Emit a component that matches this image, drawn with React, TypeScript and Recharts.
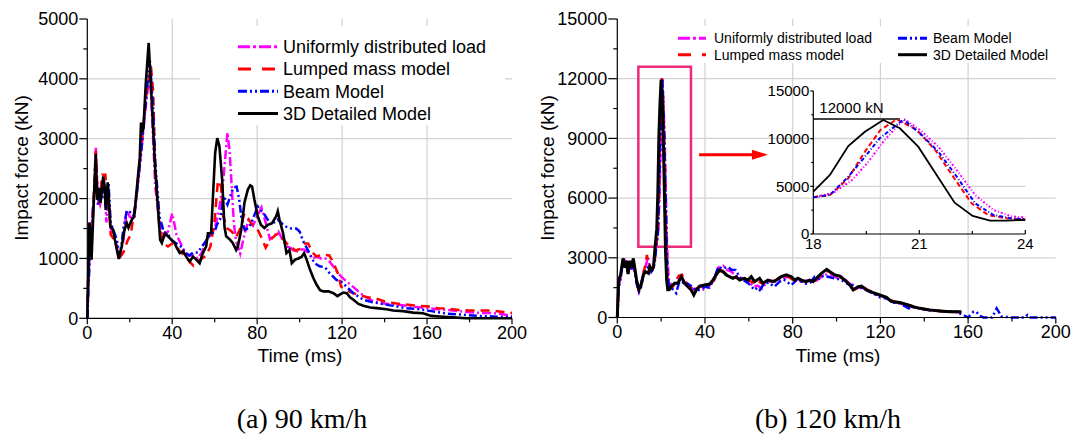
import React from "react";
import {
  LineChart,
  Line,
  XAxis,
  YAxis,
  CartesianGrid,
  ReferenceArea,
  ReferenceLine,
  ReferenceDot,
} from "recharts";

type Pt = [number, number]; // [time (ms), force (kN)]

// (a) 90 km/h
const aUniform: Pt[] = [
  [0, 0], [1, 1000], [2, 1550], [3, 2000], [4, 2850], [5, 2000], [6, 1900], [7, 2100], [8, 2300], [9, 1600],
  [10, 2100], [11, 1500], [13, 1350], [15, 1000], [17, 1300], [18.5, 1800], [20, 1700], [22, 1650], [24, 2300],
  [26, 3000], [28, 3700], [29.5, 4100], [31, 3000], [32, 2200], [34, 1600], [36, 1350], [38, 1450], [40, 1750],
  [42, 1400], [44, 1250], [46, 1100], [48, 1050], [50, 1050], [52, 1000], [54, 1100], [56, 1300], [58, 1400],
  [60, 1500], [62, 1800], [64, 2300], [66, 3100], [67, 2800], [68, 2200], [69, 1600], [70, 1300], [72, 1080],
  [74, 1400], [76, 1650], [78, 1550], [80, 1700], [82, 1850], [84, 1600], [86, 1320], [88, 1380], [90, 1450],
  [92, 1310], [94, 1200], [96, 1170], [98, 1100], [100, 1150], [102, 1150], [104, 1100], [106, 1000], [108, 1030],
  [110, 1000], [112, 1000], [114, 950], [116, 860], [118, 760], [120, 680], [122, 620], [124, 560], [126, 500],
  [128, 440], [130, 380], [134, 300], [138, 250], [142, 240], [146, 230], [150, 210], [155, 190], [160, 170],
  [165, 150], [170, 140], [175, 120], [180, 100], [185, 90], [190, 90], [195, 70], [200, 40],
];
const aLumped: Pt[] = [
  [0, 0], [1, 1600], [2, 1200], [3, 2000], [4, 2800], [5, 1900], [6, 2000], [7, 2400], [8.5, 2400], [9, 2100],
  [10, 2000], [11, 1400], [13, 1300], [15, 1000], [17, 1100], [19, 1300], [20.5, 1400], [23, 2000], [26, 3100],
  [28, 3800], [30, 4200], [31, 3800], [32, 2500], [34, 1500], [36, 1250], [38, 1200], [40, 1250], [42, 1200],
  [44, 1100], [46, 1050], [48, 950], [50, 880], [52, 950], [54, 1000], [56, 1050], [58, 1200], [60, 1650],
  [61.5, 2300], [63, 2200], [64, 1700], [66, 1500], [68, 1450], [70, 1350], [72, 1500], [74, 1750], [76, 1650],
  [78, 1550], [80, 1500], [82, 1350], [84, 1180], [86, 1300], [88, 1370], [90, 1420], [92, 1330], [94, 1250],
  [96, 1200], [98, 1130], [100, 1160], [102, 1250], [104, 1250], [106, 1100], [108, 1030], [110, 1060],
  [112, 1060], [114, 1050], [116, 920], [118, 750], [119.5, 530], [122, 470], [125, 420], [128, 390], [132, 350],
  [136, 330], [140, 280], [145, 250], [150, 230], [155, 210], [160, 200], [165, 170], [170, 160], [175, 140],
  [180, 130], [185, 130], [190, 130], [195, 110], [200, 90],
];
const aBeam: Pt[] = [
  [0, 0], [1, 900], [2, 1400], [3, 2000], [4, 2500], [5, 1900], [6, 2100], [7, 2000], [8, 2200], [9, 1800],
  [10, 2250], [11, 1600], [12, 1500], [14, 1300], [15, 1050], [16, 1200], [17, 1500], [18.6, 1800], [21, 1760],
  [22, 1700], [24, 2300], [26, 3000], [28, 3800], [29.5, 4300], [31, 3500], [32, 2600], [34, 1700], [36, 1450],
  [38, 1400], [40, 1300], [42, 1250], [44, 1200], [46, 1100], [48, 1050], [50, 1100], [52, 1100], [54, 1200],
  [56, 1300], [58, 1400], [60, 1450], [61, 1560], [62.5, 1650], [64.3, 2040], [66, 1900], [68.7, 2180],
  [70.3, 2200], [71.5, 2000], [72.5, 1700], [74.1, 1480], [75.7, 1500], [77.2, 1590], [80.3, 1870], [83.5, 1730],
  [86.6, 1560], [89.7, 1650], [92.9, 1540], [96, 1500], [98.4, 1500], [100, 1450], [101.5, 1300], [103, 1200],
  [105.4, 1030], [107, 920], [109.4, 870], [112, 850], [114, 760], [117.3, 640], [119.7, 610], [122, 530],
  [125.3, 420], [130, 310], [134, 270], [137.7, 250], [142, 220], [145.6, 200], [150, 170], [156.5, 150],
  [162, 120], [169, 80], [178.5, 55], [185, 40], [191, 30], [200, 20],
];
const aDetailed: Pt[] = [
  [0, 0], [1, 1600], [2, 980], [3, 1900], [4, 2750], [4.6, 1980], [5.5, 2180], [6.2, 1930], [7.5, 2370],
  [8.1, 2200], [8.7, 1810], [9.6, 2270], [10.3, 1870], [10.9, 1530], [12.2, 1480], [13, 1310], [14.8, 990],
  [16.2, 1200], [17.5, 1480], [18.6, 1590], [19.4, 1510], [21, 1650], [22.1, 1700], [23.4, 2200], [24.7, 2680],
  [25.3, 3270], [25.9, 3100], [26.5, 3210], [27.5, 3900], [28.9, 4600], [30.3, 3660], [31.9, 2540], [33, 1980],
  [34.3, 1310], [35.1, 1260], [36.5, 1420], [38, 1370], [39.6, 1310], [41.1, 1260], [42.2, 1170], [43.5, 1090],
  [45.1, 1120], [46.6, 1030], [48.2, 950], [49.8, 1030], [51.3, 980], [52.9, 920], [54.4, 1090], [56, 1200],
  [56.8, 1420], [58.3, 1420], [59.1, 1980], [60.2, 2760], [61.2, 3010], [62.2, 2880], [63.5, 2320], [64.6, 1530],
  [65.4, 1370], [67.3, 1310], [68.5, 1260], [70.1, 1140], [70.9, 1200], [72.5, 1480], [74, 1930], [75.6, 2150],
  [76.7, 2220], [77.6, 2200], [78.7, 1980], [80.3, 1700], [81.8, 1560], [83.4, 1510], [85, 1560], [87, 1590],
  [88.9, 1700], [89.7, 1790], [90.5, 1650], [92.2, 1420], [93.8, 1090], [95.2, 1140], [96.3, 920], [97.9, 980],
  [99.4, 1000], [101, 1030], [102.1, 1090], [103.3, 980], [104.9, 810], [106.5, 670], [108, 560], [109.6, 470],
  [111.2, 450], [113.5, 450], [115.9, 420], [117.8, 370], [119, 400], [120.6, 430], [122.2, 420], [123.7, 350],
  [125.3, 310], [127.7, 240], [130, 210], [133.2, 180], [136.2, 170], [140.9, 150], [144, 130], [148.7, 120],
  [153.4, 95], [158.1, 85], [162, 40], [165.9, 30], [172.2, 15], [178.4, 0], [200, 0],
];

// inset of (b): 18–24 ms
const insetUniform: Pt[] = [
  [18, 3850], [18.57, 4330], [19.1, 5660], [19.56, 7580], [19.98, 9680], [20.36, 11260], [20.6, 12000],
  [21.02, 10910], [21.54, 9160], [22.06, 6710], [22.58, 4090], [23.1, 2520], [23.6, 1850], [23.85, 1780], [24, 1760],
];
const insetLumped: Pt[] = [
  [18, 3850], [18.47, 4090], [18.99, 5840], [19.46, 8630], [19.9, 10910], [20.36, 12030], [20.93, 10910],
  [21.45, 8810], [21.96, 6010], [22.48, 3220], [22.95, 1990], [23.46, 1640], [23.85, 1570], [24, 1560],
];
const insetBeam: Pt[] = [
  [18, 3850], [18.47, 4090], [18.99, 6010], [19.46, 8100], [19.88, 10040], [20.55, 12000], [21.02, 10560],
  [21.54, 8630], [22.06, 6010], [22.58, 3220], [23.1, 1990], [23.6, 1640], [23.85, 1570], [24, 1560],
];
const insetDetailed: Pt[] = [
  [18, 4440], [18.47, 6190], [18.99, 9230], [19.46, 10730], [19.98, 11960], [20.45, 11090], [20.97, 9160],
  [21.49, 6190], [22.0, 3290], [22.51, 1890], [23.0, 1400], [23.47, 1400], [23.85, 1470], [24, 1450],
];

// (b) 120 km/h, before and after the inset window
const bUniformRise: Pt[] = [
  [0, 0], [0.6, 1500], [1.5, 2000], [2.6, 2700], [3.4, 3000], [4.2, 2600], [5, 2300], [5.7, 2700], [6.5, 2400],
  [7.3, 2800], [8.1, 2300], [8.8, 1800], [9.9, 1300], [10.8, 1600], [12, 2300], [13, 2600], [14, 3050],
  [15, 2400], [16, 2300], [17, 2900],
];
const bUniformFall: Pt[] = [
  [25, 1600], [26.5, 1700], [28, 2100], [29.5, 2000], [31, 1700], [33, 1550], [35, 1400], [37, 1500],
  [39.8, 1380], [42, 1600], [44, 1900], [46, 2500], [48.3, 2600], [50, 2400], [52, 2300], [54, 2100], [56, 2000],
  [58, 1950], [60, 1800], [62.2, 1550], [64, 1600], [66, 1450], [68, 1750], [70, 1850], [72, 1800], [74, 1900],
  [76, 2000], [78, 2050], [80, 1950], [82, 1900], [84, 1800], [86, 1850], [88, 1900], [90, 1800], [92, 1950],
  [94, 2100], [96, 2200], [98, 2150], [100, 2000], [102, 2050], [104, 1900], [106, 1700], [108, 1450],
  [110, 1500], [112, 1500], [114, 1350], [117, 1200], [120, 1100], [123, 950], [126, 780], [129, 700],
  [133, 560], [136, 500], [140, 400], [145, 340], [150, 300], [156, 260],
];
const bLumpedRise: Pt[] = [
  [0, 0], [0.6, 1700], [1.5, 2100], [2.6, 2900], [3.4, 2500], [4.2, 2800], [5, 2200], [5.7, 2800], [6.5, 2450],
  [7.3, 2900], [8.1, 2300], [8.8, 1800], [9.9, 1250], [10.8, 1600], [12, 2300], [13, 2700], [13.5, 3140],
  [14.5, 2600], [15.5, 2400], [16.5, 2500], [17.2, 3000],
];
const bLumpedFall: Pt[] = [
  [25, 1500], [26.5, 1750], [28, 2100], [29.5, 2150], [31, 1800], [33, 1600], [35, 1350], [37, 1500],
  [39.8, 1600], [42, 1650], [44, 1850], [46, 2300], [48, 2350], [50, 2150], [52, 2000], [54, 2000], [56, 1900],
  [58, 1950], [60, 1850], [62, 1750], [64, 1850], [66, 1700], [68, 1800], [70, 1800], [72, 1850], [74, 2000],
  [76, 2100], [78, 2050], [80, 1900], [82, 1950], [84, 1850], [86, 1800], [88, 1850], [90, 1850], [92, 2050],
  [94, 2250], [96, 2350], [98, 2200], [100, 2100], [102, 2000], [104, 1850], [106, 1600], [108, 1400],
  [110, 1500], [112, 1550], [114, 1400], [117, 1250], [120, 1100], [123, 1000], [126, 800], [129, 740],
  [133, 620], [136, 530], [140, 420], [145, 350], [150, 300], [156, 280],
];
const bBeamRise: Pt[] = [
  [0, 0], [0.6, 1400], [1.5, 2000], [2.6, 2800], [3.4, 2700], [4.2, 2600], [5, 2200], [5.7, 2500], [6.5, 2400],
  [7.3, 2800], [8.1, 2200], [8.8, 1700], [9.9, 1300], [10.8, 1500], [12, 2200], [13, 2400], [14.7, 2600],
  [15.5, 2300], [16.5, 2450], [17.2, 2900],
];
const bBeamFall: Pt[] = [
  [25, 1450], [26.9, 1220], [28, 1700], [29.2, 1970], [30.5, 1600], [32, 1700], [34.3, 1550], [36, 1350],
  [38, 1400], [40, 1550], [42, 1500], [44, 1900], [46.1, 2550], [48, 2450], [50.5, 2550], [52, 2400],
  [54, 2390], [56, 2000], [58, 1850], [60, 1700], [62.6, 1380], [64, 1500], [65, 1380], [67, 1700], [69, 1750],
  [71.7, 1550], [74, 1800], [76, 1900], [79.4, 1630], [82, 1900], [84, 1800], [86, 1700], [88, 1750], [90, 2050],
  [92, 1950], [94, 2100], [96, 2050], [98, 2000], [100, 1950], [102, 1900], [104, 1750], [106, 1650],
  [108, 1630], [110, 1450], [112, 1500], [114, 1350], [117, 1200], [120, 1000], [123, 950], [126, 750],
  [129, 700], [132.9, 460], [135, 520], [138, 450], [142, 380], [146, 330], [150, 300], [154, 300],
  [157.8, 130], [160, 0], [162.4, 290], [163.9, 280], [165, 100], [167, 0], [171, 0], [173, 460], [174, 290],
  [175, 50], [180, 0], [186, 0], [187, 120], [188, 0], [200, 0],
];
const bDetailedRise: Pt[] = [
  [0, 0], [0.6, 1880], [1.5, 2140], [2.6, 2970], [3.4, 2510], [4.2, 2850], [4.9, 2180], [5.7, 2850],
  [6.5, 2510], [7.3, 2970], [8.1, 2400], [8.8, 1880], [9.9, 1410], [10.8, 1630], [11.9, 2140], [12.9, 2300],
  [14.2, 2220], [14.9, 2550], [15.7, 2400], [16.5, 2550], [17.2, 3500],
];
const bDetailedFall: Pt[] = [
  [24.6, 1550], [26.1, 1720], [27.6, 1720], [29.2, 2050], [30.7, 1720], [32.2, 1550], [33.7, 1380],
  [34.9, 1130], [36, 1380], [37.5, 1580], [39.8, 1630], [42.1, 1680], [43.6, 1880], [45.1, 2140], [46.6, 2390],
  [48.2, 2300], [49.7, 2140], [51.2, 2050], [52.7, 1970], [54.2, 2050], [55.8, 1880], [58, 1970], [59.6, 1880],
  [61.1, 2050], [62.6, 1800], [64.9, 1970], [66.4, 1720], [68.7, 1880], [71, 1800], [72.5, 1880], [74.8, 2050],
  [77.1, 2140], [79.4, 2050], [80.9, 1880], [82.4, 1970], [84, 1880], [86.2, 1800], [87.7, 1880], [89.3, 1800],
  [90.8, 1970], [93.1, 2220], [95.5, 2420], [97, 2300], [99.2, 2140], [101.5, 2080], [103.8, 1880],
  [106.1, 1630], [107.6, 1380], [109.9, 1550], [111.4, 1580], [113.7, 1380], [116.7, 1250], [119.7, 1130],
  [122.8, 1010], [125.1, 800], [128.9, 750], [132.7, 630], [135, 540], [138, 460], [142.6, 380], [147.2, 330],
  [151.7, 290], [156.3, 290], [157, 280],
];
const bUniform = [...bUniformRise, ...insetUniform, ...bUniformFall];
const bLumped = [...bLumpedRise, ...insetLumped, ...bLumpedFall];
const bBeam = [...bBeamRise, ...insetBeam, ...bBeamFall];
const bDetailed = [...bDetailedRise, ...insetDetailed, ...bDetailedFall];

// ticks
const timeTicks = [0, 20, 40, 60, 80, 100, 120, 140, 160, 180, 200];
const timeMajor = [0, 40, 80, 120, 160, 200];
const timeGrid = [40, 80, 120, 160];
const forceTicksA = [0, 500, 1000, 1500, 2000, 2500, 3000, 3500, 4000, 4500, 5000];
const forceMajorA = [0, 1000, 2000, 3000, 4000, 5000];
const forceGridA = [1000, 2000, 3000, 4000];
const forceTicksB = [0, 1500, 3000, 4500, 6000, 7500, 9000, 10500, 12000, 13500, 15000];
const forceMajorB = [0, 3000, 6000, 9000, 12000, 15000];
const forceGridB = [3000, 6000, 9000, 12000];
const insetTimeTicks = [18, 19.5, 21, 22.5, 24];
const insetTimeMajor = [18, 21, 24];
const insetForceTicks = [0, 2500, 5000, 7500, 10000, 12500, 15000];
const insetForceMajor = [0, 5000, 10000, 15000];

// annotations in (b)
const zoomBox = { x1: 9.6, x2: 33.6, y1: 3560, y2: 12600 };
const arrow = { from: 37.3, to: 62, tip: 68.7, y: 8180 };
const peakMark = { from: 18, to: 20.45, y: 12050, label: "12000 kN" };

const SANS = "'Liberation Sans', Arial, sans-serif";
const SERIF = "'Liberation Serif', 'Times New Roman', serif";

const series = [
  { name: "Uniformly distributed load", color: "#ff00ff", dash: "9 3 2 3", legendDash: "12 3 3 3", insetDash: "2 2 1 2" },
  { name: "Lumped mass model", color: "#ff0000", dash: "9 6", legendDash: "13 11", insetDash: "5 3" },
  { name: "Beam Model", color: "#0000ff", dash: "8 3 2 3 2 3", legendDash: "9 3 2 3 2 3", insetDash: "4 2 1 2" },
  { name: "3D Detailed Model", color: "#000000", dash: undefined, legendDash: undefined, insetDash: undefined },
];

const pts = (arr: Pt[]) => arr.map(([t, v]) => ({ t, v }));

type Side = "left" | "right" | "top" | "bottom";

function tickRenderer(side: Side, major: number[], majorLen: number, minorLen: number, fontSize: number, labels: boolean, labelGap = 2) {
  return (props: any) => {
    const { x, y, payload } = props;
    const isMajor = major.includes(payload.value);
    const len = isMajor ? majorLen : minorLen;
    const show = labels && isMajor;
    const txt = { fontFamily: SANS, fontSize, fill: "#000" };
    if (side === "left") {
      return (
        <g>
          <line x1={x - len} y1={y} x2={x} y2={y} stroke="#000" strokeWidth={1.2} />
          {show && (
            <text x={x - len - 1} y={y} dy="0.35em" textAnchor="end" {...txt}>
              {payload.value}
            </text>
          )}
        </g>
      );
    }
    if (side === "right") {
      return <line x1={x - len} y1={y} x2={x} y2={y} stroke="#000" strokeWidth={1.2} />;
    }
    if (side === "top") {
      return <line x1={x} y1={y} x2={x} y2={y + len} stroke="#000" strokeWidth={1.2} />;
    }
    // bottom: outward for main charts (len > 0), inward for inset (len < 0)
    return (
      <g>
        <line x1={x} y1={y} x2={x} y2={y + len} stroke="#000" strokeWidth={1.2} />
        {show && (
          <text x={x} y={y + Math.max(len, 0) + labelGap} dy="0.71em" textAnchor="middle" {...txt}>
            {payload.value}
          </text>
        )}
      </g>
    );
  };
}

const axisLine = { stroke: "#000", strokeWidth: 1.2 };

function MainPanel(props: {
  left: number;
  width: number;
  right: number;
  xHeight: number;
  yMax: number;
  yTicks: number[];
  yMajor: number[];
  yGrid: number[];
  yTickLen: number;
  data: Pt[][];
  width3D: number;
  children?: React.ReactNode;
}) {
  const { left, width, right, xHeight, yMax, yTicks, yMajor, yGrid, yTickLen, data, width3D, children } = props;
  return (
    <div style={{ position: "absolute", left, top: 0 }}>
      <LineChart width={width} height={360} margin={{ top: 19, right, bottom: 0, left: 0 }}>
        <CartesianGrid stroke="#d2d2d2" strokeWidth={1.2} verticalValues={timeGrid} horizontalValues={yGrid} />
        <XAxis
          type="number"
          dataKey="t"
          domain={[0, 200]}
          ticks={timeTicks}
          interval={0}
          height={xHeight}
          tickSize={0}
          tickMargin={0}
          tickLine={false}
          axisLine={axisLine}
          tick={tickRenderer("bottom", timeMajor, 6, 4, 18, true)}
        />
        <XAxis
          xAxisId="top"
          orientation="top"
          type="number"
          domain={[0, 200]}
          ticks={timeTicks}
          interval={0}
          height={0}
          tickSize={0}
          tickMargin={0}
          tickLine={false}
          axisLine={axisLine}
          tick={tickRenderer("top", timeMajor, 6, 4, 18, false)}
        />
        <YAxis
          type="number"
          domain={[0, yMax]}
          ticks={yTicks}
          interval={0}
          width={87.3}
          tickSize={0}
          tickMargin={0}
          tickLine={false}
          axisLine={axisLine}
          tick={tickRenderer("left", yMajor, yTickLen, 4, 18, true)}
        />
        <YAxis
          yAxisId="right"
          orientation="right"
          type="number"
          domain={[0, yMax]}
          ticks={yTicks}
          interval={0}
          width={0}
          tickSize={0}
          tickMargin={0}
          tickLine={false}
          axisLine={axisLine}
          tick={tickRenderer("right", yMajor, 6, 4, 18, false)}
        />
        {series.map((s, i) => (
          <Line
            key={s.name}
            data={pts(data[i])}
            dataKey="v"
            type="linear"
            stroke={s.color}
            strokeWidth={i === 3 ? width3D : 2.5}
            strokeDasharray={s.dash}
            dot={false}
            activeDot={false}
            isAnimationActive={false}
          />
        ))}
        {children}
      </LineChart>
    </div>
  );
}

function Inset() {
  return (
    <div style={{ position: "absolute", left: 750, top: 80 }}>
      <LineChart width={290} height={180} margin={{ top: 11, right: 14.7, bottom: 0, left: 0 }}>
        <CartesianGrid stroke="#d2d2d2" strokeWidth={1.2} vertical={false} horizontalValues={[5000, 10000]} />
        <XAxis
          type="number"
          dataKey="t"
          domain={[18, 24]}
          ticks={insetTimeTicks}
          interval={0}
          height={26}
          tickSize={0}
          tickMargin={0}
          tickLine={false}
          axisLine={axisLine}
          tick={tickRenderer("bottom", insetTimeMajor, -4, -3, 15, true, 4)}
        />
        <XAxis xAxisId="top" orientation="top" type="number" domain={[18, 24]} height={0} tick={false} axisLine={axisLine} />
        <YAxis
          type="number"
          domain={[0, 15000]}
          ticks={insetForceTicks}
          interval={0}
          width={63.3}
          tickSize={0}
          tickMargin={0}
          tickLine={false}
          axisLine={axisLine}
          tick={tickRenderer("left", insetForceMajor, 3, 2, 15, true)}
        />
        <YAxis yAxisId="right" orientation="right" type="number" domain={[0, 15000]} width={0} tick={false} axisLine={axisLine} />
        <ReferenceLine
          segment={[
            { x: peakMark.from, y: peakMark.y },
            { x: peakMark.to, y: peakMark.y },
          ]}
          stroke="#444"
          strokeWidth={2}
          label={{ value: peakMark.label, position: "insideBottomLeft", offset: 6, fontSize: 15, fill: "#000", fontFamily: SANS }}
        />
        {[insetUniform, insetLumped, insetBeam, insetDetailed].map((d, i) => (
          <Line
            key={series[i].name}
            data={pts(d)}
            dataKey="v"
            type="linear"
            stroke={series[i].color}
            strokeWidth={i === 3 ? 1.8 : 2}
            strokeDasharray={series[i].insetDash}
            dot={false}
            activeDot={false}
            isAnimationActive={false}
          />
        ))}
      </LineChart>
    </div>
  );
}

function LegendItem({ x, y, len, gap, fontSize, s }: { x: number; y: number; len: number; gap: number; fontSize: number; s: (typeof series)[number] }) {
  return (
    <g>
      <line x1={x} y1={y} x2={x + len} y2={y} stroke={s.color} strokeWidth={3} strokeDasharray={s.legendDash} />
      <text x={x + len + gap} y={y} dy="0.35em" fontFamily={SANS} fontSize={fontSize} fill="#000">
        {s.name}
      </text>
    </g>
  );
}

export default function App() {
  const rowsA = [46.7, 69, 91.3, 113.5];
  return (
    <div style={{ position: "absolute", left: 0, top: 0, width: 1077, height: 439, background: "#fff", overflow: "hidden" }}>
      <MainPanel
        left={0}
        width={530}
        right={18}
        xHeight={41.7}
        yMax={5000}
        yTicks={forceTicksA}
        yMajor={forceMajorA}
        yGrid={forceGridA}
        yTickLen={8}
        data={[aUniform, aLumped, aBeam, aDetailed]}
        width3D={2.6}
      />
      <MainPanel
        left={530}
        width={547}
        right={21.2}
        xHeight={42.5}
        yMax={15000}
        yTicks={forceTicksB}
        yMajor={forceMajorB}
        yGrid={forceGridB}
        yTickLen={9}
        data={[bUniform, bLumped, bBeam, bDetailed]}
        width3D={3}
      >
        <ReferenceArea
          x1={zoomBox.x1}
          x2={zoomBox.x2}
          y1={zoomBox.y1}
          y2={zoomBox.y2}
          fill="none"
          fillOpacity={0}
          stroke="#ec2a7b"
          strokeWidth={2.5}
        />
        <ReferenceLine
          segment={[
            { x: arrow.from, y: arrow.y },
            { x: arrow.to, y: arrow.y },
          ]}
          stroke="#ff0000"
          strokeWidth={3}
        />
        <ReferenceDot
          x={arrow.tip}
          y={arrow.y}
          r={6}
          shape={(p: any) => (
            <polygon points={`${p.cx},${p.cy} ${p.cx - 16},${p.cy - 5} ${p.cx - 16},${p.cy + 5}`} fill="#ff0000" />
          )}
        />
      </MainPanel>
      <Inset />
      <svg width={1077} height={439} style={{ position: "absolute", left: 0, top: 0, pointerEvents: "none" }}>
        {/* legend (a) */}
        <rect x={200} y={26} width={305} height={99} fill="#fff" />
        {series.map((s, i) => (
          <LegendItem key={s.name} x={238} y={rowsA[i]} len={40} gap={5} fontSize={18} s={s} />
        ))}
        {/* legend (b) */}
        <rect x={668} y={26} width={381} height={37} fill="#fff" />
        <LegendItem x={678} y={38.3} len={28} gap={8} fontSize={14} s={series[0]} />
        <LegendItem x={678} y={54.7} len={28} gap={8} fontSize={14} s={series[1]} />
        <LegendItem x={898} y={38.3} len={29} gap={6} fontSize={14} s={series[2]} />
        <LegendItem x={898} y={54.7} len={29} gap={6} fontSize={14} s={series[3]} />
        {/* axis titles */}
        <text x={21} y={168} dy="0.35em" transform="rotate(-90 21 168)" textAnchor="middle" fontFamily={SANS} fontSize={19}>
          Impact force (kN)
        </text>
        <text x={547} y={168} dy="0.35em" transform="rotate(-90 547 168)" textAnchor="middle" fontFamily={SANS} fontSize={19}>
          Impact force (kN)
        </text>
        <text x={300} y={355} dy="0.35em" textAnchor="middle" fontFamily={SANS} fontSize={19}>
          Time (ms)
        </text>
        <text x={838} y={355} dy="0.35em" textAnchor="middle" fontFamily={SANS} fontSize={19}>
          Time (ms)
        </text>
        {/* captions */}
        <text x={302} y={418} dy="0.35em" textAnchor="middle" fontFamily={SERIF} fontSize={28}>
          (a) 90 km/h
        </text>
        <text x={828} y={418} dy="0.35em" textAnchor="middle" fontFamily={SERIF} fontSize={28}>
          (b) 120 km/h
        </text>
      </svg>
    </div>
  );
}
